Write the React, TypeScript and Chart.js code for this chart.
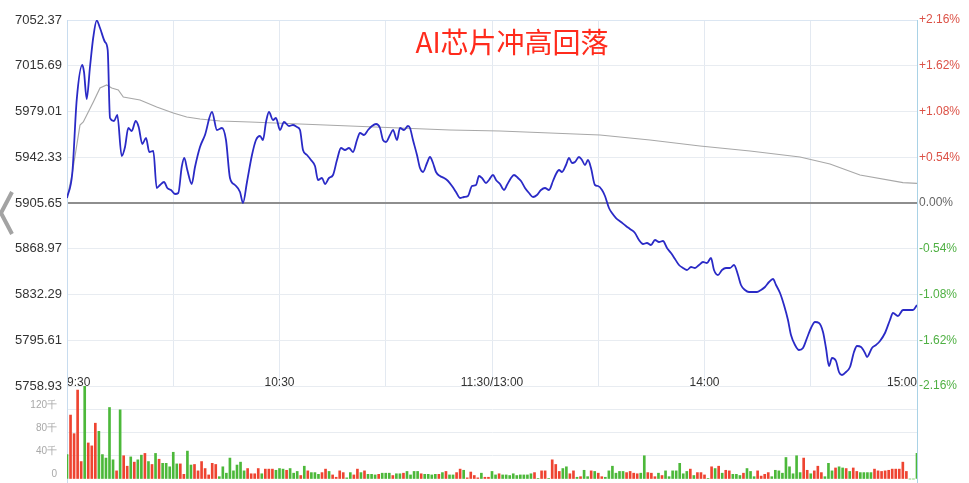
import React, { useEffect, useRef } from 'react';
import { Chart, registerables } from 'chart.js';

Chart.register(...registerables);

const FONT = "'Liberation Sans', Arial, sans-serif";

// Price axis ticks (left) and their printed labels
const priceTicks = [5758.93, 5795.61, 5832.29, 5868.97, 5905.65, 5942.33, 5979.01, 6015.69, 6052.37];
const priceTickLabels = ['5758.93', '5795.61', '5832.29', '5868.97', '5905.65', '5942.33', '5979.01', '7015.69', '7052.37'];
const pctTickLabels = ['-2.16%', '-1.62%', '-1.08%', '-0.54%', '0.00%', '+0.54%', '+1.08%', '+1.62%', '+2.16%'];

// Time axis: minutes since 9:30 (trading minutes)
const timeTicks = [0, 30, 60, 90, 120, 150, 180, 210, 240];
const timeTickLabels = ['9:30', '', '10:30', '', '11:30/13:00', '', '14:00', '', '15:00'];

// Price line (minute, price)
const priceMinutes = [
  0, 1.5, 2.74, 4.32, 4.8, 5.56, 6.49, 7.43, 8.39, 9.32,
  10.73, 11.49, 12.14, 13.27, 14.2, 15.44, 16.38, 17.31, 18.27, 19.4,
  20.24, 21.26, 22.31, 23.24, 24.37, 25.33, 26.26, 27.39, 28.32, 29.36,
  30.49, 31.43, 32.39, 33.12, 33.97, 35.21, 36.14, 37.55, 38.96, 40.94,
  42.35, 43.76, 44.89, 46.02, 47.43, 48.85, 49.69, 50.82, 52.23, 53.36,
  54.49, 55.34, 56.19, 57.03, 58.16, 59.01, 60.14, 61.27, 62.68, 63.81,
  64.94, 65.79, 66.63, 67.76, 68.89, 70.02, 70.87, 72, 72.85, 73.98,
  75.11, 76.23, 77.36, 78.49, 79.62, 80.75, 81.88, 82.73, 83.86, 84.99,
  86.12, 87.25, 88.38, 89.22, 90.07, 91.2, 92.05, 93.18, 94.02, 95.15,
  96.28, 96.85, 97.69, 98.82, 99.67, 100.52, 101.65, 102.49, 103.34, 104.19,
  105.32, 106.45, 107.58, 108.7, 109.83, 110.96, 112.09, 113.22, 114.35, 115.48,
  116.33, 117.18, 118.3, 119.15, 120.28, 121.13, 122.26, 123.39, 124.23, 125.36,
  126.21, 127.34, 128.19, 129.32, 130.45, 131.58, 132.7, 133.83, 134.96, 136.09,
  137.22, 138.07, 138.92, 139.76, 140.89, 141.74, 142.59, 143.43, 144.56, 145.41,
  146.26, 147.1, 147.95, 149.08, 149.93, 151.06, 151.9, 153.03, 153.88, 155.01,
  156.42, 157.83, 158.96, 160.37, 161.5, 162.63, 163.76, 164.89, 166.02, 167.15,
  168.28, 169.41, 170.54, 171.67, 172.8, 173.93, 175.06, 176.19, 177.32, 178.45,
  179.57, 180.7, 181.83, 182.68, 183.81, 184.94, 186.07, 187.2, 188.33, 189.46,
  190.3, 191.43, 192.56, 193.69, 194.82, 195.95, 197.08, 198.21, 199.34, 200.19,
  201.32, 202.44, 203.57, 204.42, 205.55, 206.68, 207.81, 208.94, 210.07, 211.2,
  212.33, 213.46, 214.3, 215.15, 216, 217.13, 217.97, 218.82, 219.95, 221.08,
  222.21, 223.06, 224.19, 225.32, 225.88, 227.29, 228.42, 229.55, 230.96, 232.37,
  233.22, 234.63, 236.04, 237.46, 238.87, 240,
];
const priceValues = [
  5909.66, 5929.70, 5988.23, 6016.29, 6010.68, 5989.03, 6014.69, 6038.74, 6051.97, 6045.96,
  6034.73, 6028.32, 5973.80, 5971.39, 5976.20, 5943.33, 5950.55, 5965.78, 5963.38, 5971.39,
  5966.58, 5952.95, 5957.76, 5946.54, 5947.34, 5917.68, 5920.08, 5922.49, 5917.68, 5916.07,
  5912.87, 5913.67, 5934.51, 5941.73, 5932.11, 5920.88, 5934.51, 5950.55, 5960.17, 5978.61,
  5964.18, 5965.78, 5956.16, 5925.69, 5920.08, 5914.47, 5905.65, 5922.49, 5944.13, 5956.16,
  5959.37, 5956.16, 5970.59, 5978.61, 5972.20, 5973.80, 5964.18, 5970.59, 5967.38, 5968.19,
  5966.58, 5964.18, 5948.14, 5944.13, 5940.13, 5935.31, 5924.09, 5925.69, 5920.88, 5925.69,
  5928.10, 5940.13, 5949.75, 5948.14, 5949.75, 5946.54, 5956.16, 5961.77, 5960.17, 5964.18,
  5967.38, 5968.99, 5965.78, 5956.16, 5954.56, 5960.17, 5964.18, 5956.16, 5965.78, 5964.18,
  5967.38, 5965.78, 5956.16, 5944.13, 5933.71, 5930.50, 5937.72, 5942.53, 5937.72, 5930.50,
  5927.30, 5925.69, 5923.29, 5919.28, 5914.47, 5909.66, 5910.46, 5911.26, 5919.28, 5920.08,
  5927.30, 5925.69, 5921.69, 5924.09, 5928.10, 5924.09, 5920.88, 5916.07, 5920.08, 5925.69,
  5928.10, 5925.69, 5923.29, 5917.68, 5913.67, 5910.46, 5912.06, 5916.07, 5917.68, 5916.07,
  5923.29, 5928.90, 5932.11, 5930.50, 5936.12, 5941.73, 5937.72, 5938.52, 5942.53, 5940.13,
  5936.12, 5940.13, 5933.71, 5920.08, 5919.28, 5916.07, 5911.26, 5901.64, 5897.63, 5893.62,
  5890.42, 5887.21, 5884.80, 5881.60, 5875.99, 5872.78, 5873.58, 5871.98, 5875.99, 5874.38,
  5875.18, 5869.57, 5865.56, 5860.75, 5855.94, 5853.54, 5851.93, 5854.34, 5853.54, 5855.94,
  5858.35, 5857.54, 5861.55, 5851.93, 5847.92, 5851.93, 5853.54, 5853.54, 5855.94, 5847.92,
  5839.91, 5835.90, 5834.29, 5834.29, 5834.29, 5835.90, 5838.30, 5842.31, 5844.72, 5839.91,
  5833.49, 5823.87, 5811.85, 5799.82, 5791.80, 5787.79, 5789.40, 5797.41, 5805.43, 5810.24,
  5809.44, 5802.22, 5789.40, 5774.96, 5781.38, 5778.97, 5770.15, 5767.75, 5770.15, 5774.16,
  5786.19, 5791.00, 5790.20, 5785.39, 5782.18, 5789.40, 5791.80, 5795.01, 5801.42, 5811.85,
  5817.46, 5815.05, 5819.86, 5819.86, 5819.86, 5823.87,
];

// Average price line (minute, price)
const avgMinutes = [
  0, 1.41, 3.67, 4.6, 7.43, 9.32, 11.21, 12.62, 14.48, 15.9,
  20.61, 25.33, 30.01, 33.8, 37.55, 43.2, 51.67, 65.79, 79.91, 94.02,
  108.14, 122.26, 136.38, 150.49, 164.61, 178.73, 192.85, 206.96, 215.43, 223.9,
  236.04, 240,
];
const avgValues = [
  5909.66, 5928.10, 5968.19, 5970.59, 5986.63, 5997.85, 6000.26, 5997.85, 5996.25, 5990.64,
  5988.23, 5982.62, 5977.81, 5974.60, 5973.00, 5971.39, 5970.59, 5968.99, 5967.38, 5965.78,
  5964.18, 5963.38, 5961.77, 5960.17, 5956.16, 5951.35, 5947.34, 5942.53, 5936.92, 5928.10,
  5921.93, 5921.44,
];

// Volume (千) per minute, and direction (r = up, g = down)
const volTicks = [0, 40, 80, 120];
const volTickLabels = ['0', '40千', '80千', '120千'];
const volumes = [
  42, 110, 78, 153, 30, 165, 62, 57, 96, 82,
  42, 36, 123, 33, 14, 119, 40, 22, 38, 29,
  33, 41, 44, 30, 25, 44, 34, 27, 27, 21,
  46, 26, 26, 8, 48, 24, 25, 14, 30, 18,
  7, 27, 25, 4, 21, 10, 36, 14, 24, 29,
  14, 18, 9, 9, 18, 9, 17, 17, 17, 15,
  18, 17, 15, 18, 10, 13, 6, 22, 14, 11,
  11, 8, 11, 17, 13, 7, 3, 14, 11, 2,
  11, 7, 17, 11, 14, 8, 8, 7, 8, 10,
  10, 10, 6, 9, 9, 10, 13, 7, 13, 13,
  9, 8, 8, 7, 8, 8, 11, 13, 7, 7,
  11, 17, 15, 2, 12, 6, 2, 10, 3, 3,
  13, 7, 9, 7, 7, 6, 9, 6, 7, 7,
  7, 9, 11, 1, 14, 14, 1, 33, 25, 13,
  18, 21, 9, 14, 3, 4, 15, 4, 14, 13,
  10, 4, 3, 14, 22, 10, 13, 13, 11, 13,
  10, 9, 10, 40, 11, 10, 4, 10, 6, 14,
  4, 14, 14, 27, 9, 13, 17, 6, 11, 11,
  7, 1, 21, 18, 22, 10, 15, 14, 8, 8,
  6, 10, 18, 13, 4, 14, 5, 8, 11, 4,
  15, 14, 10, 37, 21, 9, 40, 11, 36, 15,
  9, 14, 22, 11, 4, 27, 14, 19, 21, 19,
  18, 13, 19, 13, 11, 11, 11, 11, 17, 14,
  13, 14, 15, 17, 17, 17, 29, 13, 0, 0,
  44,
];
const volDirs = (
  'grrrrgrrrg' + 'ggggrgrrgr' + 'ggrgrgrggg' + 'ggrrggrrrr' + 'rrrggggggg' +
  'grrrrgrrrg' + 'ggrgggrgrg' + 'ggrrgrrrrg' + 'grrgrgggrg' + 'ggrggrgggg' +
  'rggggrgrgg' + 'rrgrrrrgrr' + 'ggrggggggg' + 'ggrgrrgrrr' + 'ggrrgrggrg' +
  'rrggggggrr' + 'rrggrrrgrg' + 'ggggggrgrr' + 'rgrgrgrrgg' + 'grgggrrrrg' +
  'ggggggggrr' + 'grrrgggrgg' + 'rgrrggggrr' + 'rrrrrrrrgg' + 'g'
).split('');

const RED = '#ee4431';
const GREEN = '#4cb83a';

export default function App() {
  const mainRef = useRef<HTMLCanvasElement>(null);
  const volRef = useRef<HTMLCanvasElement>(null);

  useEffect(() => {
    const zeroPad = (s: any) => {
      s.paddingTop = 0; s.paddingBottom = 0; s.paddingLeft = 0; s.paddingRight = 0;
    };
    const main = new Chart(mainRef.current as HTMLCanvasElement, {
      type: 'line',
      data: {
        datasets: [
          {
            data: priceMinutes.map((m, i) => ({ x: m, y: priceValues[i] })),
            borderColor: '#2a2ac6',
            borderWidth: 1.8,
            pointRadius: 0,
            cubicInterpolationMode: 'monotone',
            fill: false,
            xAxisID: 'x',
            yAxisID: 'y',
          },
          {
            data: avgMinutes.map((m, i) => ({ x: m, y: avgValues[i] })),
            borderColor: '#a8a8a8',
            borderWidth: 1.2,
            pointRadius: 0,
            tension: 0,
            fill: false,
            xAxisID: 'x',
            yAxisID: 'y',
          },
        ],
      },
      options: {
        responsive: false,
        animation: false,
        devicePixelRatio: 1,
        events: [],
        layout: { padding: { top: 20, left: 0, right: 0, bottom: 0 } },
        plugins: { legend: { display: false }, tooltip: { enabled: false } },
        scales: {
          x: {
            type: 'linear',
            position: 'bottom',
            min: 0,
            max: 240,
            afterBuildTicks: (s: any) => { s.ticks = timeTicks.map((v) => ({ value: v })); },
            afterFit: (s: any) => { s.height = 14; zeroPad(s); },
            ticks: {
              autoSkip: false,
              maxRotation: 0,
              minRotation: 0,
              align: 'inner',
              mirror: true,
              padding: -4,
              color: '#333333',
              font: { size: 12, family: FONT },
              callback: (_v: any, i: number) => timeTickLabels[i],
            },
            grid: {
              drawTicks: false,
              color: (c: any) => (c.index === 0 || c.index === timeTicks.length - 1 ? 'rgba(0,0,0,0)' : '#e3e9f1'),
            },
            border: { display: false },
          },
          y: {
            type: 'linear',
            position: 'left',
            min: priceTicks[0],
            max: priceTicks[priceTicks.length - 1],
            afterBuildTicks: (s: any) => { s.ticks = priceTicks.map((v) => ({ value: v })); },
            afterFit: (s: any) => { s.width = 67; zeroPad(s); },
            ticks: {
              padding: 5,
              color: '#333333',
              font: { size: 13, family: FONT },
              callback: (_v: any, i: number) => priceTickLabels[i],
            },
            grid: {
              drawTicks: false,
              color: (c: any) => (c.index === 4 ? '#8e8e8e' : c.index === 8 ? '#dbe6f2' : '#e8ecf1'),
              lineWidth: (c: any) => (c.index === 4 ? 2 : 1),
            },
            border: { display: true, color: '#c8dcef', width: 1 },
          },
          y2: {
            type: 'linear',
            position: 'right',
            min: priceTicks[0],
            max: priceTicks[priceTicks.length - 1],
            afterBuildTicks: (s: any) => { s.ticks = priceTicks.map((v) => ({ value: v })); },
            afterFit: (s: any) => { s.width = 52; zeroPad(s); },
            ticks: {
              padding: 2,
              color: (c: any) => (c.index < 4 ? '#4fb043' : c.index === 4 ? '#666666' : '#dc5247'),
              font: { size: 12, family: FONT },
              callback: (_v: any, i: number) => pctTickLabels[i],
            },
            grid: { display: false, drawTicks: false },
            border: { display: true, color: '#a9d2e6', width: 1 },
          },
        },
      } as any,
    });

    const vol = new Chart(volRef.current as HTMLCanvasElement, {
      type: 'bar',
      data: {
        datasets: [
          {
            data: volumes.map((v, i) => ({ x: i, y: v })),
            backgroundColor: volDirs.map((d) => (d === 'r' ? RED : GREEN)),
            borderWidth: 0,
            barThickness: 2,
            xAxisID: 'x',
            yAxisID: 'y',
          },
        ],
      },
      options: {
        responsive: false,
        animation: false,
        devicePixelRatio: 1,
        events: [],
        layout: { padding: { top: 16, left: 0, right: 0, bottom: 0 } },
        plugins: { legend: { display: false }, tooltip: { enabled: false } },
        scales: {
          x: { type: 'linear', min: 0, max: 240, display: false, offset: false },
          y: {
            type: 'linear',
            position: 'left',
            min: -6.88,
            max: 160,
            afterBuildTicks: (s: any) => { s.ticks = volTicks.map((v) => ({ value: v })); },
            afterFit: (s: any) => { s.width = 67; zeroPad(s); },
            ticks: {
              padding: 10,
              labelOffset: -4.5,
              color: '#a8a8a8',
              font: { size: 10, family: FONT },
              callback: (_v: any, i: number) => volTickLabels[i],
            },
            grid: {
              drawTicks: false,
              color: (c: any) => (c.index === 0 ? 'rgba(0,0,0,0)' : '#e8ecf1'),
            },
            border: { display: true, color: '#c8dcef', width: 1 },
          },
          yR: {
            type: 'linear',
            position: 'right',
            min: 0,
            max: 160,
            afterFit: (s: any) => { s.width = 52; zeroPad(s); },
            ticks: { display: false },
            grid: { display: false, drawTicks: false },
            border: { display: true, color: '#a9d2e6', width: 1 },
          },
        },
      } as any,
    });

    return () => {
      main.destroy();
      vol.destroy();
    };
  }, []);

  return (
    <div
      style={{
        position: 'fixed',
        left: 0,
        top: 0,
        width: 969,
        height: 483,
        background: '#ffffff',
        overflow: 'hidden',
      }}
    >
      <svg
        width={20}
        height={60}
        style={{ position: 'absolute', left: 0, top: 185 }}
      >
        <polyline points="12,7 1,28 12,49" fill="none" stroke="#a3a3a3" strokeWidth={4} />
      </svg>
      <canvas
        ref={mainRef}
        width={969}
        height={400}
        style={{ position: 'absolute', left: 0, top: 0, width: 969, height: 400, display: 'block' }}
      />
      <canvas
        ref={volRef}
        width={969}
        height={113}
        style={{ position: 'absolute', left: 0, top: 370, width: 969, height: 113, display: 'block' }}
      />
      <div
        style={{
          position: 'absolute',
          left: 312,
          top: 27,
          width: 400,
          textAlign: 'center',
          fontFamily: "'Noto Sans CJK SC', 'Noto Sans', sans-serif",
          fontSize: 28,
          lineHeight: '28px',
          color: '#ff2b1c',
          whiteSpace: 'nowrap',
        }}
      >
        AI芯片冲高回落
      </div>
    </div>
  );
}
